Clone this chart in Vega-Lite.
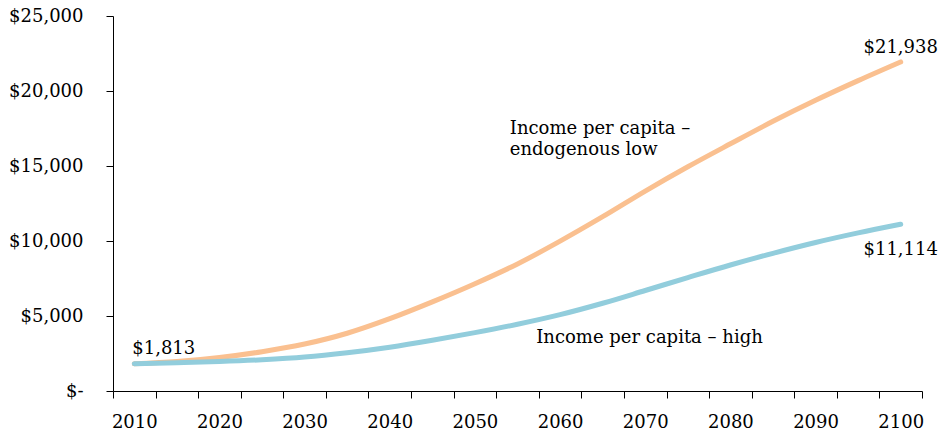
{
  "$schema": "https://vega.github.io/schema/vega-lite/v6.json",
  "width": 809,
  "height": 375,
  "autosize": {"type": "none"},
  "padding": {"left": 113, "top": 16, "right": 27, "bottom": 41},
  "background": "#ffffff",
  "datasets": {
    "income": [
      {"year": 2010, "series": "low", "value": 1813},
      {"year": 2015, "series": "low", "value": 1960},
      {"year": 2020, "series": "low", "value": 2230},
      {"year": 2025, "series": "low", "value": 2620},
      {"year": 2030, "series": "low", "value": 3130},
      {"year": 2035, "series": "low", "value": 3850},
      {"year": 2040, "series": "low", "value": 4820},
      {"year": 2045, "series": "low", "value": 5940},
      {"year": 2050, "series": "low", "value": 7150},
      {"year": 2055, "series": "low", "value": 8470},
      {"year": 2060, "series": "low", "value": 9990},
      {"year": 2065, "series": "low", "value": 11620},
      {"year": 2070, "series": "low", "value": 13330},
      {"year": 2075, "series": "low", "value": 14950},
      {"year": 2080, "series": "low", "value": 16480},
      {"year": 2085, "series": "low", "value": 17980},
      {"year": 2090, "series": "low", "value": 19380},
      {"year": 2095, "series": "low", "value": 20690},
      {"year": 2100, "series": "low", "value": 21938},
      {"year": 2010, "series": "high", "value": 1813},
      {"year": 2015, "series": "high", "value": 1880},
      {"year": 2020, "series": "high", "value": 1960},
      {"year": 2025, "series": "high", "value": 2080},
      {"year": 2030, "series": "high", "value": 2260},
      {"year": 2035, "series": "high", "value": 2550},
      {"year": 2040, "series": "high", "value": 2920},
      {"year": 2045, "series": "high", "value": 3380},
      {"year": 2050, "series": "high", "value": 3890},
      {"year": 2055, "series": "high", "value": 4450},
      {"year": 2060, "series": "high", "value": 5090},
      {"year": 2065, "series": "high", "value": 5850},
      {"year": 2070, "series": "high", "value": 6700},
      {"year": 2075, "series": "high", "value": 7560},
      {"year": 2080, "series": "high", "value": 8400},
      {"year": 2085, "series": "high", "value": 9180},
      {"year": 2090, "series": "high", "value": 9900},
      {"year": 2095, "series": "high", "value": 10540},
      {"year": 2100, "series": "high", "value": 11114}
    ],
    "notes": [
      {"year": 2054.1, "value": 17110, "text": "Income per capita –"},
      {"year": 2054.1, "value": 15730, "text": "endogenous low"},
      {"year": 2057.2, "value": 3180, "text": "Income per capita – high"}
    ]
  },
  "data": {"name": "income"},
  "encoding": {
    "x": {
      "field": "year",
      "type": "quantitative",
      "scale": {"domain": [2007.5, 2102.5], "nice": false, "zero": false},
      "axis": {
        "title": null,
        "values": [2007.5, 2012.5, 2017.5, 2022.5, 2027.5, 2032.5, 2037.5, 2042.5, 2047.5, 2052.5, 2057.5, 2062.5, 2067.5, 2072.5, 2077.5, 2082.5, 2087.5, 2092.5, 2097.5, 2102.5],
        "labelExpr": "(datum.value + 2.5) % 10 == 0 ? format(datum.value + 2.5, 'd') : ''",
        "labelOffset": 21.29,
        "labelPadding": 15,
        "labelFlush": false,
        "labelOverlap": false,
        "tickSize": 7
      }
    },
    "y": {
      "field": "value",
      "type": "quantitative",
      "scale": {"domain": [0, 25000], "nice": false},
      "axis": {
        "title": null,
        "values": [0, 5000, 10000, 15000, 20000, 25000],
        "labelExpr": "datum.value == 0 ? '$-' : '$' + format(datum.value, ',')",
        "labelPadding": 23,
        "tickSize": 7,
        "encode": {"labels": {"update": {"dx": {"signal": "datum.value == 0 ? -8 : 0"}}}}
      }
    }
  },
  "layer": [
    {
      "transform": [{"filter": "datum.series == 'low'"}],
      "mark": {"type": "line", "color": "#FAC090", "strokeWidth": 5, "strokeCap": "round", "interpolate": "monotone"}
    },
    {
      "transform": [{"filter": "datum.series == 'high'"}],
      "mark": {"type": "line", "color": "#92CDDC", "strokeWidth": 5, "strokeCap": "round", "interpolate": "monotone"}
    },
    {
      "transform": [{"filter": "datum.series == 'high' && datum.year == 2010"}],
      "mark": {"type": "text", "align": "left", "baseline": "alphabetic", "dx": -2, "dy": -10, "fontSize": 18, "font": "DejaVu Serif", "color": "#000000"},
      "encoding": {"text": {"field": "value", "type": "quantitative", "format": "$,d"}}
    },
    {
      "transform": [{"filter": "datum.series == 'low' && datum.year == 2100"}],
      "mark": {"type": "text", "align": "center", "baseline": "alphabetic", "dy": -9, "fontSize": 18, "font": "DejaVu Serif", "color": "#000000"},
      "encoding": {"text": {"field": "value", "type": "quantitative", "format": "$,d"}}
    },
    {
      "transform": [{"filter": "datum.series == 'high' && datum.year == 2100"}],
      "mark": {"type": "text", "align": "center", "baseline": "alphabetic", "dy": 31, "fontSize": 18, "font": "DejaVu Serif", "color": "#000000"},
      "encoding": {"text": {"field": "value", "type": "quantitative", "format": "$,d"}}
    },
    {
      "data": {"name": "notes"},
      "mark": {"type": "text", "align": "left", "baseline": "alphabetic", "fontSize": 18, "font": "DejaVu Serif", "color": "#000000"},
      "encoding": {"text": {"field": "text", "type": "nominal"}}
    }
  ],
  "config": {
    "view": {"stroke": null},
    "font": "DejaVu Serif",
    "axis": {
      "grid": false,
      "labelFont": "DejaVu Serif",
      "labelFontSize": 18,
      "labelColor": "#000000",
      "domainColor": "#000000",
      "domainWidth": 1,
      "tickColor": "#000000",
      "tickWidth": 1
    }
  }
}
